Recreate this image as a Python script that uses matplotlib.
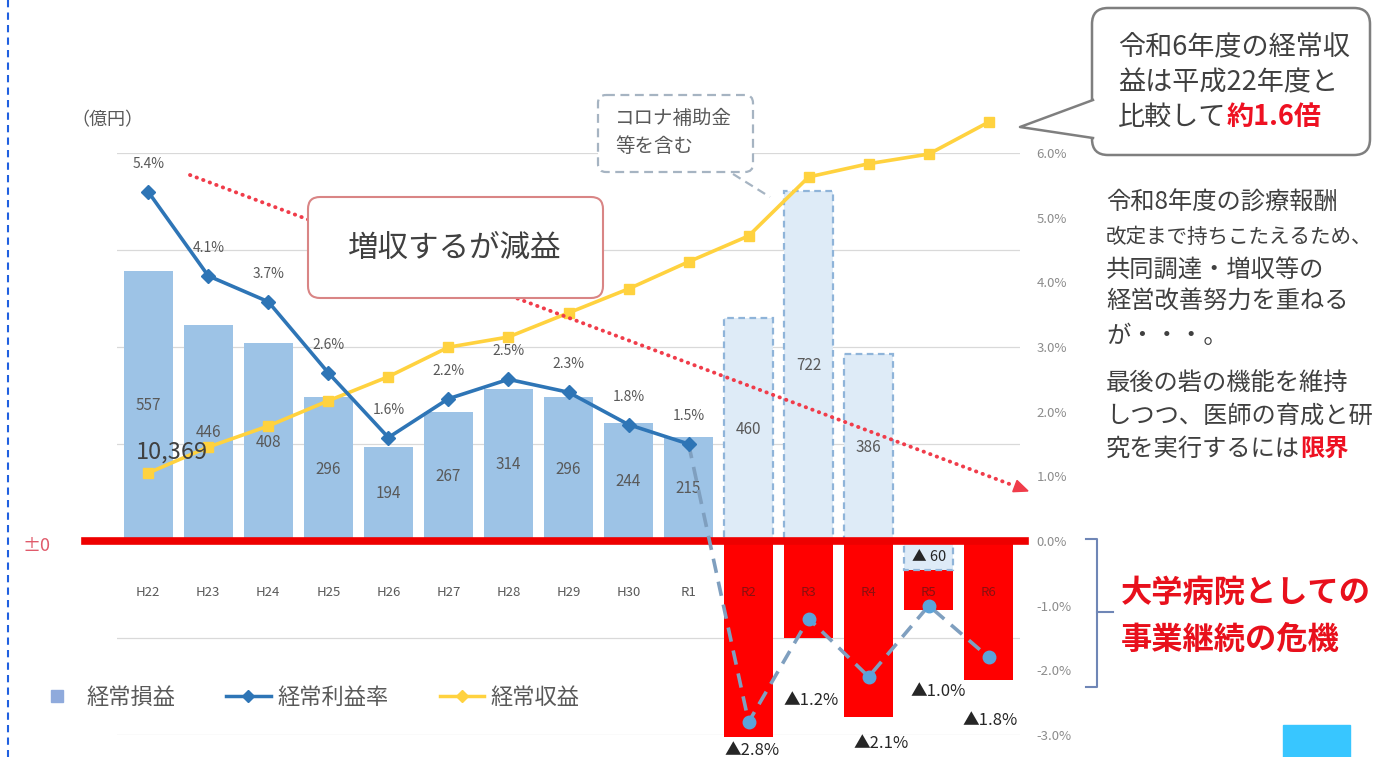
import numpy as np
import matplotlib
matplotlib.use("Agg")
import matplotlib.pyplot as plt
from matplotlib.lines import Line2D
from matplotlib.patches import FancyBboxPatch, Polygon, Rectangle
from matplotlib.ticker import FuncFormatter

plt.rcParams["font.family"] = ["Noto Sans CJK JP", "DejaVu Sans"]

W, H = 1381, 757

years = ["H22", "H23", "H24", "H25", "H26", "H27", "H28", "H29", "H30", "R1",
         "R2", "R3", "R4", "R5", "R6"]
# 経常損益（億円）  R2以降は補助金を除く
profit = [557, 446, 408, 296, 194, 267, 314, 296, 244, 215, -405, -200, -363, -142, -287]
# コロナ補助金等を含む経常損益（億円）
subsidy_years = ["R2", "R3", "R4", "R5"]
profit_with_subsidy = [460, 722, 386, -60]
# 経常利益率（%）
margin = [5.4, 4.1, 3.7, 2.6, 1.6, 2.2, 2.5, 2.3, 1.8, 1.5, -2.8, -1.2, -2.1, -1.0, -1.8]
# 経常収益（億円）
revenue = [10369, 10800, 11150, 11570, 11970, 12460, 12630, 13030, 13430, 13880,
           14310, 15290, 15510, 15670, 16203]

# label offsets (pixels) for the negative margin points R2..R6
neg_label_offsets = [(3, -28), (2, -82), (12, -67), (9, -86), (1, -63)]

BAR_BLUE = "#9dc3e6"
RED = "#ff0000"
LINE_BLUE = "#2e75b6"
DASH_BLUE = "#7f9fbf"
DOT_BLUE = "#5ba3d9"
YELLOW = "#ffd23f"
GREY = "#595959"
DARK = "#404040"

fig = plt.figure(figsize=(W / 100, H / 100), dpi=100)
fig.patch.set_facecolor("white")

# plot area: x 117..1020 px, y 153..735 px
ax = fig.add_axes([117 / W, 1 - 735 / H, (1020 - 117) / W, (735 - 153) / H])
x = np.arange(len(years))
ax.set_xlim(-0.52, 14.52)
ax.set_ylim(-400, 800)
ax.set_yticks(np.arange(-400, 801, 200))
ax.yaxis.grid(True, color="#d9d9d9", lw=0.9)
ax.set_axisbelow(True)
for s in ax.spines.values():
    s.set_visible(False)
ax.patch.set_alpha(0)

bar_w = 0.82
colors = [BAR_BLUE if v > 0 else RED for v in profit]
ax.bar(x, profit, width=bar_w, color=colors, zorder=2, clip_on=False)

sub_x = [years.index(y) for y in subsidy_years]
ax.bar(sub_x, profit_with_subsidy, width=bar_w, color="#deebf7", edgecolor="#8fb4d9",
       lw=1.6, ls=(0, (3, 2)), zorder=3)

# zero line
ax.axhline(0, xmin=-0.035, xmax=1.006, color="#ee0000", lw=5.5, zorder=4, clip_on=False)


def fmt_oku(v):
    return f"{v}" if v >= 0 else f"▲ {-v}"


for i, v in enumerate(profit):
    if v > 0:
        ax.text(i, v / 2, fmt_oku(v), ha="center", va="center", fontsize=11, color=GREY, zorder=5)
for i, v in zip(sub_x, profit_with_subsidy):
    ax.text(i, v / 2 if v > 0 else v / 2 - 3, fmt_oku(v), ha="center", va="center",
            fontsize=11 if v > 0 else 10.5, color=GREY if v > 0 else "#262626", zorder=5)

# category labels sit inside the plot just below the zero line
for i, (lab, v) in enumerate(zip(years, profit)):
    ax.text(i, -107, lab, ha="center", va="center", fontsize=9.5,
            color=GREY if v > 0 else "#8a1010", zorder=5)

# revenue on its own hidden scale
ax_rev = ax.twinx()
ax_rev.set_ylim(6014, 15688)
ax_rev.axis("off")
ax_rev.plot(x, revenue, color=YELLOW, lw=2.6, marker="s", ms=7, mfc=YELLOW, mec=YELLOW,
            clip_on=False, zorder=3)
ax_rev.annotate(f"{revenue[0]:,}", (x[0], revenue[0]), xytext=(24, 21), textcoords="offset pixels",
                ha="center", va="center", fontsize=17, color=DARK)
ax_rev.annotate(f"{revenue[-1]:,}", (x[-1], revenue[-1]), xytext=(-14, 27), textcoords="offset pixels",
                ha="center", va="center", fontsize=17, color=DARK)

# profit margin on the right-hand percent scale
ax_pct = ax.twinx()
ax_pct.set_ylim(-3, 6)
ax_pct.set_yticks(np.arange(-3, 6.1, 1))
ax_pct.yaxis.set_major_formatter(FuncFormatter(lambda v, _: f"{v:.1f}%"))
ax_pct.tick_params(axis="y", length=0, pad=12, labelsize=9.5, labelcolor="#8c8c8c")
for s in ax_pct.spines.values():
    s.set_visible(False)
ax_pct.plot(x[9:], margin[9:], color=DASH_BLUE, lw=2.6, ls=(0, (4, 2.5)), zorder=3)
ax_pct.plot(x[:10], margin[:10], color=LINE_BLUE, lw=2.6, marker="D", ms=7, zorder=4)
ax_pct.plot(x[10:], margin[10:], ls="none", marker="o", ms=9, mfc=DOT_BLUE, mec=DOT_BLUE, zorder=4)

# twinx turns the left ticks back on, so hide them afterwards
ax.tick_params(left=False, labelleft=False, bottom=False, labelbottom=False)

k = 0
for i, m in enumerate(margin):
    if m > 0:
        ax_pct.annotate(f"{m:.1f}%", (i, m), xytext=(0, 28), textcoords="offset pixels",
                        ha="center", va="center", fontsize=10, color=GREY)
    else:
        dx, dy = neg_label_offsets[k]
        k += 1
        ax_pct.annotate(f"▲{-m:.1f}%", (i, m), xytext=(dx, dy), textcoords="offset pixels",
                        ha="center", va="center", fontsize=12, color="#262626")

handles = [
    Line2D([], [], ls="none", marker="s", ms=9, color="#8faadc", label="経常損益"),
    Line2D([], [], color=LINE_BLUE, lw=2.5, marker="D", ms=6, label="経常利益率"),
    Line2D([], [], color=YELLOW, lw=2.5, marker="D", ms=6, label="経常収益"),
]
ax.legend(handles=handles, loc="center left", bbox_to_anchor=(35 / W, 1 - 697 / H),
          bbox_transform=fig.transFigure, ncol=3, frameon=False, fontsize=16,
          labelcolor=GREY, handlelength=2.0, handletextpad=0.3, columnspacing=2.3,
          borderpad=0, borderaxespad=0)

# overlay in pixel units for callouts and side notes
ov = fig.add_axes([0, 0, 1, 1])
ov.set_xlim(0, W)
ov.set_ylim(H, 0)
ov.axis("off")
ov.set_zorder(10)
renderer = fig.canvas.get_renderer()


def rich_line(x0, y0, parts, size):
    for text, color, weight in parts:
        t = ov.text(x0, y0, text, fontsize=size, color=color, fontweight=weight,
                    ha="left", va="center")
        x0 += t.get_window_extent(renderer).width


# left border
ov.plot([8, 8], [0, H], color="#2060e0", lw=1.5, ls=(0, (3.5, 2.5)))

ov.text(37, 546, "±0", color="#e05a6a", fontsize=13, ha="center", va="center")
ov.text(107, 120, "（億円）", color=GREY, fontsize=13, ha="center", va="center")

# trend arrow
p0 = np.array([190.0, 175.0])
p1 = np.array([1028.0, 491.0])
d = (p1 - p0) / np.linalg.norm(p1 - p0)
n = np.array([-d[1], d[0]])
base = p1 - d * 14
ov.plot([p0[0], base[0]], [p0[1], base[1]], color="#f03c4a", lw=2.8,
        ls=(0, (0.1, 1.7)), dash_capstyle="round", zorder=1)
ov.add_patch(Polygon([p1, base + n * 6, base - n * 6], closed=True, color="#f03c4a", zorder=1))

ov.add_patch(FancyBboxPatch((308, 197), 295, 101, boxstyle="round,pad=0,rounding_size=12",
                            ec="#d98585", fc="white", lw=1.5, zorder=2))
ov.text(455, 248, "増収するが減益", fontsize=22, color=DARK, ha="center", va="center", zorder=3)

# subsidy note
ov.add_patch(FancyBboxPatch((598, 95), 155, 77, boxstyle="round,pad=0,rounding_size=8",
                            ec="#a6b4c2", fc="white", lw=1.6, ls=(0, (4, 2.5)), zorder=2))
ov.plot([733, 770], [174, 197], color="#a6b4c2", lw=1.6, ls=(0, (4, 2.5)), zorder=2)
ov.text(615, 118, "コロナ補助金", fontsize=14, color=GREY, ha="left", va="center", zorder=3)
ov.text(615, 146, "等を含む", fontsize=14, color=GREY, ha="left", va="center", zorder=3)

# revenue callout
ov.add_patch(FancyBboxPatch((1092, 8), 278, 147, boxstyle="round,pad=0,rounding_size=16",
                            ec="#7f7f7f", fc="white", lw=1.8, zorder=2))
ov.add_patch(Polygon([(1094, 100), (1020, 127), (1094, 138)], closed=True, fc="white",
                     ec="none", zorder=3))
ov.plot([1093, 1020, 1093], [100, 127, 138], color="#7f7f7f", lw=1.8, zorder=3)
ov.text(1118, 47, "令和6年度の経常収", fontsize=19.5, color=DARK, va="center", zorder=4)
ov.text(1118, 83, "益は平成22年度と", fontsize=19.5, color=DARK, va="center", zorder=4)
rich_line(1118, 117, [("比較して", DARK, "normal"), ("約1.6倍", "#ee1122", "bold")], 19.5)

notes = ["令和8年度の診療報酬", "改定まで持ちこたえるため、", "共同調達・増収等の",
         "経営改善努力を重ねる", "が・・・。"]
note_sizes = [17.5, 14.8, 17.5, 17.5, 17.5]
for yy, line, fs in zip([203, 237, 270, 302, 336], notes, note_sizes):
    ov.text(1106, yy, line, fontsize=fs, color=DARK, va="center")
ov.text(1106, 383, "最後の砦の機能を維持", fontsize=17.5, color=DARK, va="center")
ov.text(1106, 416, "しつつ、医師の育成と研", fontsize=17.5, color=DARK, va="center")
rich_line(1106, 449, [("究を実行するには", DARK, "normal"), ("限界", "#ee1122", "bold")], 17.5)

# bracket over the negative range
ov.plot([1086, 1097, 1097, 1086], [539, 539, 687, 687], color="#6f86b6", lw=1.5)
ov.plot([1097, 1113], [612, 612], color="#6f86b6", lw=1.5)
ov.text(1121, 593, "大学病院としての", fontsize=22.5, color="#e8101c", fontweight="bold", va="center")
ov.text(1121, 640, "事業継続の危機", fontsize=22.5, color="#e8101c", fontweight="bold", va="center")

ov.add_patch(Rectangle((1283, 725), 67, 35, color="#38c6ff", zorder=1))

fig.savefig("out.png", dpi=100)
